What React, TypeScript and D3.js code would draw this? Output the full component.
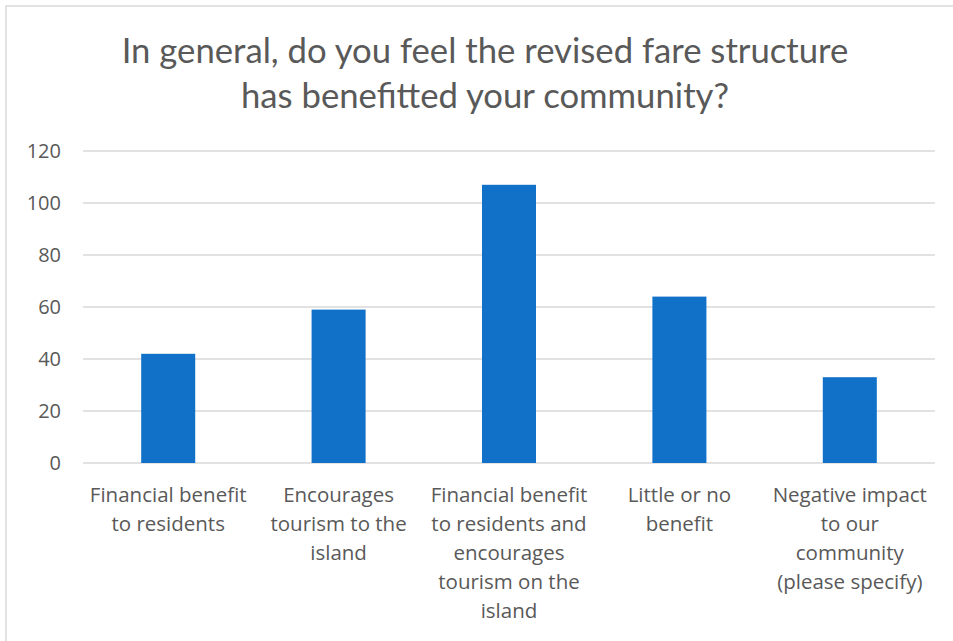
import React from "react";
import * as d3 from "d3";

const categories = [
  "Financial benefit to residents",
  "Encourages tourism to the island",
  "Financial benefit to residents and encourages tourism on the island",
  "Little or no benefit",
  "Negative impact to our community (please specify)",
];
const categoryLines = [
  ["Financial benefit", "to residents"],
  ["Encourages", "tourism to the", "island"],
  ["Financial benefit", "to residents and", "encourages", "tourism on the", "island"],
  ["Little or no", "benefit"],
  ["Negative impact", "to our", "community", "(please specify)"],
];
const values = [42, 59, 107, 64, 33];
const yTicks = [0, 20, 40, 60, 80, 100, 120];
const titleLines = [
  "In general, do you feel the revised fare structure",
  "has benefitted your community?",
];

const W = 953;
const H = 641;
const plot = { left: 83, right: 935, top: 151, bottom: 463 };
const TITLE_FONT = "Lato, 'Open Sans', sans-serif";
const FONT = "'Open Sans', sans-serif";

export default function App() {
  const x = d3
    .scaleBand<string>()
    .domain(categories)
    .range([plot.left, plot.right])
    .paddingInner(0.683)
    .paddingOuter(0.3415);
  const y = d3.scaleLinear().domain([0, 120]).range([plot.bottom, plot.top]);

  return (
    <svg
      width={W}
      height={H}
      style={{ position: "absolute", left: 0, top: 0, background: "#fff" }}
    >
      <rect x={0} y={0} width={W} height={H} fill="#fff" />
      <rect
        x={6}
        y={6}
        width={W + 20}
        height={H + 20}
        fill="#fff"
        stroke="#d9d9d9"
        strokeWidth={1.5}
      />
      {titleLines.map((t, i) => (
        <text
          key={i}
          x={485}
          y={63 + i * 45}
          textAnchor="middle"
          fontFamily={TITLE_FONT}
          fontSize={34.7}
          fill="#595959"
        >
          {t}
        </text>
      ))}
      {yTicks.map((v) => (
        <g key={v}>
          <line
            x1={plot.left}
            x2={plot.right}
            y1={y(v)}
            y2={y(v)}
            stroke="#d9d9d9"
            strokeWidth={1.5}
          />
          <text
            x={61}
            y={y(v)}
            dy="0.36em"
            textAnchor="end"
            fontFamily={FONT}
            fontSize={20}
            fill="#595959"
          >
            {v}
          </text>
        </g>
      ))}
      {categories.map((c, i) => (
        <rect
          key={c}
          x={x(c)}
          y={y(values[i])}
          width={x.bandwidth()}
          height={y(0) - y(values[i])}
          fill="#1170c8"
        />
      ))}
      {categories.map((c, i) => (
        <text
          key={c}
          textAnchor="middle"
          fontFamily={FONT}
          fontSize={20.5}
          fill="#595959"
        >
          {categoryLines[i].map((l, j) => (
            <tspan key={j} x={(x(c) as number) + x.bandwidth() / 2} y={502 + j * 29}>
              {l}
            </tspan>
          ))}
        </text>
      ))}
    </svg>
  );
}
